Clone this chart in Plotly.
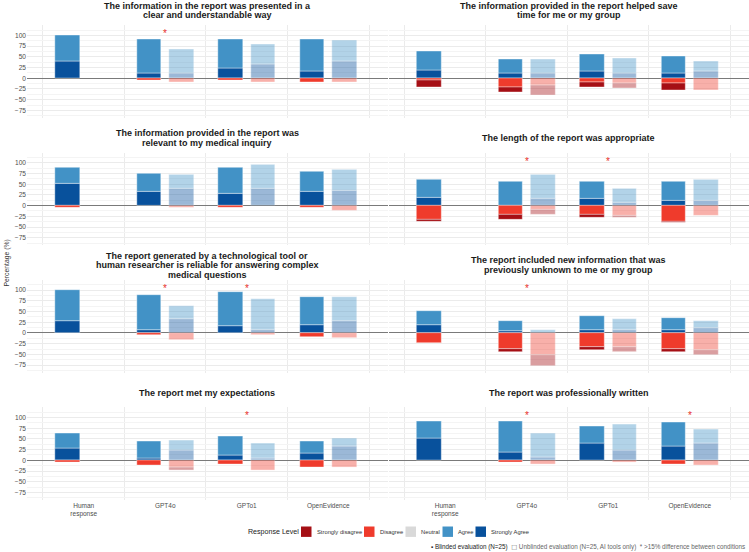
import plotly.graph_objects as go

W, H = 749, 552

# ---------------- data ----------------
questions = [
    ["The information in the report was presented in a", "clear and understandable way"],
    ["The information provided in the report helped save", "time for me or my group"],
    ["The information provided in the report was", "relevant to my medical inquiry"],
    ["The length of the report was appropriate"],
    ["The report generated by a technological tool or", "human researcher is reliable for answering complex", "medical questions"],
    ["The report included new information that was", "previously unknown to me or my group"],
    ["The report met my expectations"],
    ["The report was professionally written"],
]
sources = ["Human response", "GPT4o", "GPTo1", "OpenEvidence"]
tick_labels = ["Human<br>response", "GPT4o", "GPTo1", "OpenEvidence"]
ai_tools = ["GPT4o", "GPTo1", "OpenEvidence"]

# Blinded evaluation (Human, GPT4o, GPTo1, OpenEvidence), % per panel
blind_strongly_agree = [[40, 12, 24, 16], [20, 12, 16, 12], [52, 32, 28, 32], [20, 0, 16, 12],
                        [28, 8, 16, 20], [20, 4, 8, 8], [28, 4, 12, 16], [52, 20, 40, 32]]
blind_agree = [[60, 80, 68, 76], [44, 32, 40, 40], [36, 44, 60, 48], [40, 56, 40, 44],
               [72, 80, 80, 64], [32, 24, 32, 28], [36, 40, 44, 28], [40, 72, 40, 56]]
blind_disagree = [[0, 4, 4, 8], [4, 20, 8, 12], [4, 0, 4, 4], [32, 20, 20, 36],
                  [0, 4, 0, 8], [24, 36, 32, 36], [4, 12, 8, 16], [0, 4, 0, 8]]
blind_strongly_disagree = [[0, 0, 0, 0], [16, 12, 12, 16], [0, 0, 0, 0], [4, 12, 8, 4],
                           [0, 0, 0, 0], [0, 8, 8, 8], [0, 0, 0, 0], [0, 0, 0, 0]]

# Unblinded evaluation (GPT4o, GPTo1, OpenEvidence), % per panel
unblind_strongly_agree = [[12, 32, 40], [12, 12, 16], [40, 40, 36], [16, 8, 12],
                          [32, 8, 28], [0, 8, 12], [24, 4, 32], [8, 24, 40]]
unblind_agree = [[56, 48, 48], [32, 36, 24], [32, 56, 48], [56, 32, 48],
                 [32, 72, 56], [8, 24, 16], [24, 36, 20], [56, 60, 32]]
unblind_disagree = [[8, 8, 8], [16, 12, 28], [4, 0, 12], [8, 24, 24],
                    [16, 4, 12], [52, 32, 40], [16, 24, 16], [8, 4, 12]]
unblind_strongly_disagree = [[0, 0, 0], [24, 12, 0], [0, 0, 0], [12, 4, 0],
                             [0, 0, 0], [24, 12, 12], [8, 0, 0], [0, 0, 0]]

# >15% difference between conditions (panel -> sources)
stars = [["GPT4o"], [], [], ["GPT4o", "GPTo1"], ["GPT4o", "GPTo1"], ["GPT4o"], ["GPTo1"], ["GPT4o", "OpenEvidence"]]
star_height = 104

y_ticks = [-75, -50, -25, 0, 25, 50, 75, 100]
y_minor = [-87.5, -62.5, -37.5, -12.5, 12.5, 37.5, 62.5, 87.5, 112.5]

level_names = ["Strongly disagree", "Disagree", "Neutral", "Agree", "Strongly Agree"]
level_colors = {"Strongly disagree": "#a50f15", "Disagree": "#ef3b2c", "Neutral": "#d9d9d9",
                "Agree": "#4292c6", "Strongly Agree": "#08519c"}

# ---------------- geometry ----------------
col_px = [(27.0, 387.5), (388.5, 749.0)]
row_top = [25.2, 152.55, 279.9, 407.25]
row_h = 92.9
x_range = [0.304, 4.727]
y_range = [-93, 124]
pos = {s: i + 1 for i, s in enumerate(sources)}
OFF, BW = 0.2, 0.3

FONT = "Liberation Sans, Arial, Helvetica, sans-serif"
TICKC = "#4d4d4d"


def px_x(x):
    return x / W


def px_y(y):
    return 1 - y / H


fig = go.Figure()
layout = dict(width=W, height=H, margin=dict(l=0, r=0, t=0, b=0),
              paper_bgcolor="white", plot_bgcolor="white", barmode="relative",
              showlegend=False, font=dict(family=FONT, color="#222"), bargap=0)
annotations, shapes = [], []

for i in range(8):
    r, c = divmod(i, 2)
    sfx = "" if i == 0 else str(i + 1)
    xa, ya = "x" + sfx, "y" + sfx
    xb = [pos[s] - OFF for s in sources]
    xu = [pos[s] + OFF for s in ai_tools]

    series = [
        ("Strongly Agree", blind_strongly_agree[i], unblind_strongly_agree[i], 1),
        ("Agree", blind_agree[i], unblind_agree[i], 1),
        ("Disagree", blind_disagree[i], unblind_disagree[i], -1),
        ("Strongly disagree", blind_strongly_disagree[i], unblind_strongly_disagree[i], -1),
    ]
    for name, vb, vu, sgn in series:
        col = level_colors[name]
        fig.add_trace(go.Bar(x=xb, y=[sgn * v if v else None for v in vb], width=BW,
                             marker=dict(color=col, line=dict(color="white", width=0.4)),
                             xaxis=xa, yaxis=ya, name=name, hoverinfo="skip"))
        fig.add_trace(go.Bar(x=xu, y=[sgn * v if v else None for v in vu], width=BW,
                             marker=dict(color=col, line=dict(color="white", width=0.4)),
                             opacity=0.4, xaxis=xa, yaxis=ya, name=name + " (unblinded)",
                             hoverinfo="skip"))

    x0, x1 = col_px[c]
    top = row_top[r]
    bot = top + row_h
    xkey = "xaxis" + sfx
    ykey = "yaxis" + sfx
    layout[xkey] = dict(domain=[px_x(x0), px_x(x1)], range=x_range, anchor=ya,
                        tickvals=[pos[s] for s in sources], ticktext=tick_labels,
                        showticklabels=(r == 3), ticks="", showgrid=False, zeroline=False,
                        showline=False, tickfont=dict(size=6.5, color=TICKC, family=FONT),
                        minor=dict(tickvals=[0.5, 1.5, 2.5, 3.5, 4.5], showgrid=True,
                                   gridcolor="#ebebeb", gridwidth=0.8, ticks=""),
                        fixedrange=True)
    layout[ykey] = dict(domain=[px_y(bot), px_y(top)], range=y_range, anchor=xa,
                        tickvals=y_ticks, showticklabels=(c == 0), ticks="",
                        showgrid=True, gridcolor="#ebebeb", gridwidth=0.9,
                        zeroline=True, zerolinecolor="#7a7a7a", zerolinewidth=1,
                        tickfont=dict(size=6.6, color=TICKC, family=FONT),
                        minor=dict(tickvals=y_minor, showgrid=True, gridcolor="#f4f4f4",
                                   gridwidth=0.6, ticks=""),
                        fixedrange=True)

    # facet title
    lines = questions[i]
    n = len(lines)
    cy = top - 14.7
    for j, ln in enumerate(lines):
        yy = cy + (j - (n - 1) / 2) * 9.7
        annotations.append(dict(text="<b>" + ln + "</b>", x=px_x((x0 + x1) / 2), y=px_y(yy),
                                xref="paper", yref="paper", xanchor="center", yanchor="middle",
                                showarrow=False, font=dict(size=9, color="#1a1a1a", family=FONT)))
    # stars
    for s in stars[i]:
        annotations.append(dict(text="*", x=pos[s], y=star_height, xref=xa, yref=ya,
                                xanchor="center", yanchor="middle", showarrow=False,
                                font=dict(size=10, color="#e8302a", family=FONT)))

# y axis title
annotations.append(dict(text="Percentage (%)", x=px_x(6.5), y=px_y(263), xref="paper", yref="paper",
                        textangle=-90, xanchor="center", yanchor="middle", showarrow=False,
                        font=dict(size=6.8, color="#333", family=FONT)))

# legend (manual)
leg_y = 531.7
annotations.append(dict(text="Response Level", x=px_x(245.5), y=px_y(leg_y), xref="paper", yref="paper",
                        xanchor="left", yanchor="middle", showarrow=False,
                        font=dict(size=7.1, color="#222", family=FONT)))
swatch_x = {"Strongly disagree": 301, "Disagree": 364, "Neutral": 405.5,
            "Agree": 442.5, "Strongly Agree": 475.5}
for name in level_names:
    sx = swatch_x[name]
    shapes.append(dict(type="rect", xref="paper", yref="paper", x0=px_x(sx), x1=px_x(sx + 10.5),
                       y0=px_y(leg_y + 5.2), y1=px_y(leg_y - 5.2), fillcolor=level_colors[name],
                       line=dict(width=0)))
    annotations.append(dict(text=name, x=px_x(sx + 13.8), y=px_y(leg_y), xref="paper", yref="paper",
                            xanchor="left", yanchor="middle", showarrow=False,
                            font=dict(size=5.8, color="#333", family=FONT)))

caption = ("<span style='color:#222'>▪ Blinded evaluation (N=25)</span>  "
           "<span style='color:#666;font-family:DejaVu Sans'>□</span>"
           "<span style='color:#666'> Unblinded evaluation (N=25, AI tools only)</span>  "
           "<span style='color:#666'>* >15% difference between conditions</span>")
annotations.append(dict(text=caption, x=px_x(747), y=px_y(547), xref="paper", yref="paper",
                        xanchor="right", yanchor="middle", showarrow=False,
                        font=dict(size=6.3, color="#444", family=FONT)))

layout["annotations"] = annotations
layout["shapes"] = shapes
fig.update_layout(**layout)
fig.write_html("out.html")
